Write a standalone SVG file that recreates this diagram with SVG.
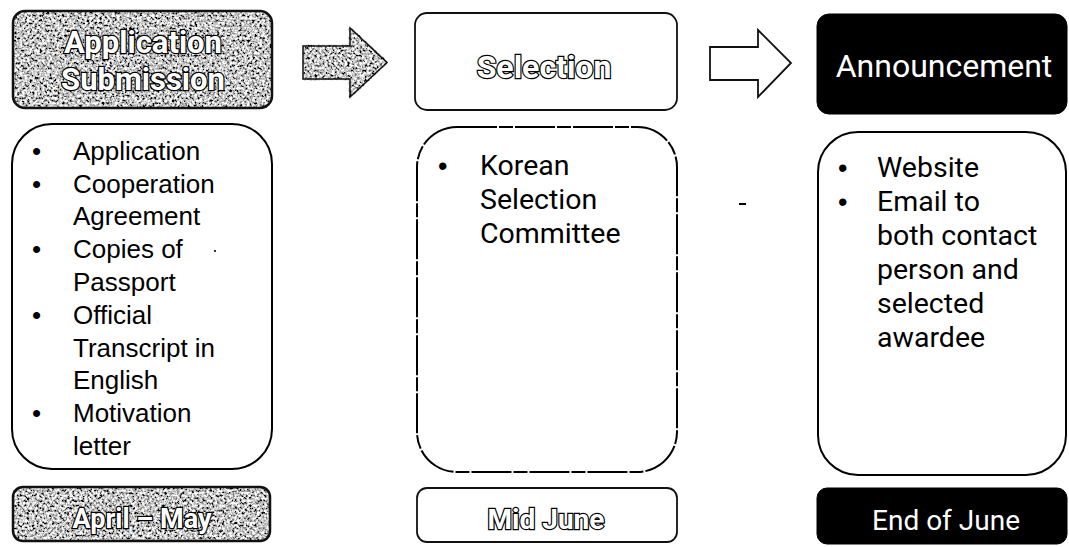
<svg xmlns="http://www.w3.org/2000/svg" width="1069" height="547" viewBox="0 0 1069 547">
<defs>
  <filter id="grain" x="0" y="0" width="100%" height="100%">
    <feTurbulence type="fractalNoise" baseFrequency="0.4" numOctaves="3" seed="7" result="n"/>
    <feColorMatrix in="n" type="matrix" values="2.6 0 0 0 -0.75  2.6 0 0 0 -0.75  2.6 0 0 0 -0.75  0 0 0 0 1" result="g"/>
    <feComposite in="g" in2="SourceGraphic" operator="in"/>
  </filter>
  <style>
    .rough { fill: #8a8a8a; stroke: #111; stroke-width: 2.5; }
    .white { fill: #fff; stroke: #111; stroke-width: 1.8; }
    .black { fill: #000; stroke: #000; stroke-width: 1; }
    .body { fill: #fff; stroke: #000; stroke-width: 2; }
    .outl { font-family: Roboto, "Noto Sans", sans-serif; font-weight: bold; fill: #fff; stroke: #000; stroke-width: 2.4; paint-order: stroke; text-anchor: middle; }
    .inv { font-family: Roboto, "Noto Sans", sans-serif; fill: #fff; text-anchor: middle; }
    .arial { font-family: "Liberation Sans", Arial, sans-serif; font-size: 26px; fill: #000; }
    .malg { font-family: Roboto, "Noto Sans", sans-serif; font-size: 28.5px; fill: #000; }
    .bul { font-family: "Liberation Sans", Arial, sans-serif; font-size: 27px; fill: #000; }
  </style>
</defs>
<rect width="1069" height="547" fill="#fff"/>

<g id="connectors">
  <g id="arrow1">
    <path d="M303,46 L350,46 L350,28 L387,62.5 L350,97 L350,79 L303,79 Z" class="rough" filter="url(#grain)"/>
    <path d="M303,46 L350,46 L350,28 L387,62.5 L350,97 L350,79 L303,79 Z" fill="none" stroke="#111" stroke-width="1.5"/>
  </g>
  <path id="arrow2" d="M710,47 L758,47 L758,30 L791,63 L758,97 L758,80 L710,80 Z" class="white"/>
</g>

<g id="node-application-header">
  <rect x="13" y="11" width="259" height="97" rx="12" class="rough" filter="url(#grain)"/>
  <rect x="13" y="11" width="259" height="97" rx="12" fill="none" stroke="#111" stroke-width="2.5"/>
  <text x="143" y="53" class="outl" font-size="31">Application</text>
  <text x="143" y="90" class="outl" font-size="31">Submission</text>
</g>

<g id="node-selection-header">
  <rect x="415" y="13" width="262" height="97" rx="12" class="white"/>
  <text x="544" y="78" class="outl" font-size="32">Selection</text>
</g>

<g id="node-announcement-header">
  <rect x="817" y="14" width="250" height="100" rx="12" class="black"/>
  <text x="944" y="77" class="inv" font-size="32">Announcement</text>
</g>

<g id="node-application-body">
  <rect x="12" y="124" width="260" height="345" rx="40" class="body"/>
  <g class="arial">
    <text x="32" y="160">•</text>
    <text x="73" y="160">Application</text>
    <text x="32" y="193">•</text>
    <text x="73" y="193">Cooperation</text>
    <text x="73" y="225">Agreement</text>
    <text x="32" y="258">•</text>
    <text x="73" y="258">Copies of</text>
    <text x="73" y="291">Passport</text>
    <text x="32" y="324">•</text>
    <text x="73" y="324">Official</text>
    <text x="73" y="357">Transcript in</text>
    <text x="73" y="389">English</text>
    <text x="32" y="422">•</text>
    <text x="73" y="422">Motivation</text>
    <text x="73" y="455">letter</text>
  </g>
  <rect x="214" y="250" width="2" height="2" fill="#333"/>
</g>

<g id="node-selection-body">
  <rect x="417" y="127" width="260" height="345" rx="40" class="body" stroke-width="1.6" stroke-dasharray="40 2 14 2"/>
  <text x="438" y="175" class="bul">•</text>
  <g class="malg">
    <text x="480" y="175">Korean</text>
    <text x="480" y="209">Selection</text>
    <text x="480" y="243">Committee</text>
  </g>
</g>

<rect x="739" y="203" width="7" height="2" fill="#000"/>

<g id="node-announcement-body">
  <rect x="818" y="132" width="248" height="343" rx="40" class="body"/>
  <text x="838" y="177" class="bul">•</text>
  <text x="838" y="211" class="bul">•</text>
  <g class="malg">
    <text x="877" y="177">Website</text>
    <text x="877" y="211">Email to</text>
    <text x="877" y="245">both contact</text>
    <text x="877" y="279">person and</text>
    <text x="877" y="313">selected</text>
    <text x="877" y="347">awardee</text>
  </g>
</g>

<g id="node-application-date">
  <rect x="13" y="487" width="257" height="54" rx="10" class="rough" filter="url(#grain)"/>
  <rect x="13" y="487" width="257" height="54" rx="10" fill="none" stroke="#111" stroke-width="2.5"/>
  <text x="142" y="528" class="outl" font-size="27">April – May</text>
</g>

<g id="node-selection-date">
  <rect x="417" y="488" width="260" height="54" rx="10" class="white"/>
  <text x="546" y="529" class="outl" font-size="28">Mid June</text>
</g>

<g id="node-announcement-date">
  <rect x="817" y="488" width="250" height="56" rx="10" class="black"/>
  <text x="946" y="530" class="inv" font-size="28">End of June</text>
</g>
</svg>
